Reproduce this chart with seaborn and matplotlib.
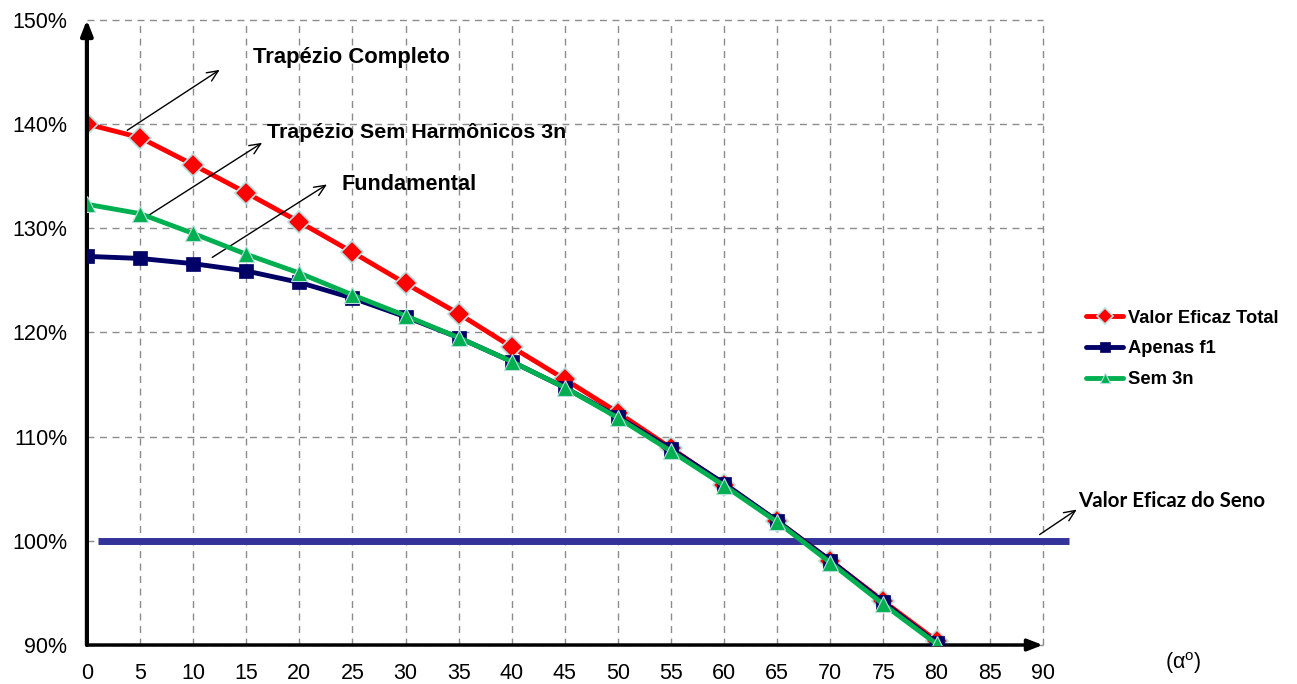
import numpy as np
import pandas as pd
import matplotlib
matplotlib.use("Agg")
import matplotlib.pyplot as plt
import seaborn as sns

# Dados (alpha em graus, valores em %)
alpha = [0, 5, 10, 15, 20, 25, 30, 35, 40, 45, 50, 55, 60, 65, 70, 75, 80]
valor_eficaz_total = [140.0, 138.7, 136.1, 133.4, 130.6, 127.7, 124.7, 121.8, 118.6,
                      115.5, 112.3, 108.9, 105.4, 101.9, 98.1, 94.2, 90.4]
apenas_f1 = [127.3, 127.1, 126.6, 125.9, 124.8, 123.3, 121.5, 119.5, 117.2,
             114.7, 111.9, 108.8, 105.5, 101.9, 98.1, 94.1, 90.2]
sem_3n = [132.3, 131.4, 129.5, 127.5, 125.7, 123.6, 121.6, 119.5, 117.2,
          114.7, 111.8, 108.6, 105.3, 101.8, 97.9, 93.9, 90.1]
valor_seno = 100
x_ticks = list(range(0, 95, 5))
y_ticks = list(range(90, 160, 10))

sns.set_style("white")
plt.rcParams['font.family'] = ['Liberation Sans', 'DejaVu Sans']
plt.rcParams['text.color'] = 'black'
plt.rcParams['xtick.color'] = 'black'
plt.rcParams['ytick.color'] = 'black'

fig = plt.figure(figsize=(12.97, 6.84), dpi=100)
ax = fig.add_axes([0.067, 0.057, 0.737, 0.914])

# linha de referência (valor eficaz do seno)
ax.hlines(valor_seno, 1, 92.5, colors='#333399', lw=5, zorder=2, clip_on=False)

df = pd.DataFrame({'alpha': alpha, 'total': valor_eficaz_total,
                   'f1': apenas_f1, 'sem3n': sem_3n})
sns.lineplot(data=df, x='alpha', y='total', ax=ax, color='#ff0000', lw=3.5,
             marker='D', markersize=11.5, markeredgecolor='#b8dede', markeredgewidth=1.2,
             label='Valor Eficaz Total', zorder=3)
sns.lineplot(data=df, x='alpha', y='f1', ax=ax, color='#000066', lw=3.5,
             marker='s', markersize=9.5, markeredgecolor='#000066', markeredgewidth=0.5,
             label='Apenas f1', zorder=4)
sns.lineplot(data=df, x='alpha', y='sem3n', ax=ax, color='#00b050', lw=3.5,
             marker='^', markersize=11, markeredgecolor='#b8dede', markeredgewidth=0.8,
             label='Sem 3n', zorder=5)

ax.set_xlim(0, 90)
ax.set_ylim(90, 150)
ax.set_xticks(x_ticks)
ax.set_yticks(y_ticks)
ax.set_yticklabels([f'{v}%' for v in y_ticks])
ax.set_xlabel('')
ax.set_ylabel('')
ax.grid(True, color='#8c8c8c', ls=(0, (5, 4)), lw=1)
for gl in ax.get_xgridlines() + ax.get_ygridlines():
    gl.set_clip_on(False)
ax.tick_params(axis='both', labelsize=15.5, direction='out', length=6, width=2, pad=7)
ax.tick_params(axis='y', pad=8)
for s in ax.spines.values():
    s.set_visible(False)

# eixos com seta
ax.annotate('', xy=(90, 90), xytext=(0, 90), annotation_clip=False,
            arrowprops=dict(arrowstyle='-|>,head_length=0.9,head_width=0.35',
                            lw=2.5, color='black', shrinkA=0, shrinkB=0))
ax.annotate('', xy=(0, 150), xytext=(0, 90), annotation_clip=False,
            arrowprops=dict(arrowstyle='-|>,head_length=0.9,head_width=0.35',
                            lw=3, color='black', shrinkA=0, shrinkB=0))

# anotações
seta = dict(arrowstyle='->,head_length=0.8,head_width=0.35', lw=1, color='black',
            shrinkA=0, shrinkB=0)
ax.annotate('', xy=(12.5, 145.2), xytext=(3.8, 139.4), arrowprops=seta, annotation_clip=False)
ax.annotate('', xy=(16.5, 138.2), xytext=(5.6, 131.1), arrowprops=seta, annotation_clip=False)
ax.annotate('', xy=(22.6, 134.2), xytext=(11.8, 127.2), arrowprops=seta, annotation_clip=False)
ax.annotate('', xy=(93.2, 103.0), xytext=(89.7, 100.6), arrowprops=seta, annotation_clip=False)
ax.text(15.6, 146.4, 'Trapézio Completo', fontsize=15.8, fontweight='bold', va='center')
ax.text(17.0, 139.2, 'Trapézio Sem Harmônicos 3n', fontsize=15.4, fontweight='bold', va='center')
ax.text(24.0, 134.2, 'Fundamental', fontsize=15.6, fontweight='bold', va='center')
ax.text(93.3, 103.8, 'Valor Eficaz do Seno', fontsize=14.8, fontweight='bold', va='center',
        family=['Lato', 'DejaVu Sans'], clip_on=False)

fig.text(0.898, 0.03, '(α$^\\mathregular{o}$)', fontsize=15.5, va='center')

ax.legend(loc='center left', bbox_to_anchor=(0.8305, 0.49), bbox_transform=fig.transFigure,
          frameon=False, prop={'weight': 'bold', 'size': 13.2}, handlelength=2.0,
          handletextpad=0.3, labelspacing=0.75, borderpad=0, markerscale=0.7)

plt.savefig('out.png', dpi=100)
